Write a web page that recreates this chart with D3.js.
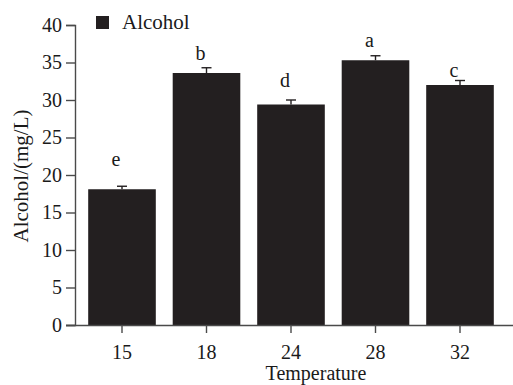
<!DOCTYPE html>
<html>
<head>
<meta charset="utf-8">
<script src="https://cdn.jsdelivr.net/npm/d3@7"></script>
<style>
  body { margin: 0; background: #fff; }
  svg { display: block; }
  svg text { font-family: "Liberation Serif", "Times New Roman", serif; }
</style>
</head>
<body>
<svg id="chart" width="513" height="385"></svg>
<script>
// data
const temps = ['15', '18', '24', '28', '32'];
const alcohol = [18.1, 33.6, 29.4, 35.3, 32.0];
const errs = [0.4, 0.7, 0.6, 0.6, 0.6];
const letters = ['e', 'b', 'd', 'a', 'c'];
const letterAt = [21.2, 35.3, 31.7, 37.1, 33.1]; // baseline height of each letter, in mg/L
const yTicks = [0, 5, 10, 15, 20, 25, 30, 35, 40];

const width = 513, height = 385;
const barColor = '#231f20', axisColor = '#4a4a4a', textColor = '#1a1a1a';
const serif = '"Liberation Serif", "Times New Roman", serif';
const fs = 20;

const svg = d3.select('#chart');

const x = d3.scaleBand()
    .domain(temps)
    .range([79.75, 502.25])
    .paddingInner(0.2)
    .paddingOuter(0.1);
const y = d3.scaleLinear()
    .domain([0, 40])
    .range([325, 25]);
const cx = i => x(temps[i]) + x.bandwidth() / 2;

// bars
svg.selectAll('rect.bar')
    .data(alcohol)
    .enter()
    .append('rect')
    .attr('class', 'bar')
    .attr('x', (d, i) => x(temps[i]))
    .attr('y', d => y(d))
    .attr('width', x.bandwidth())
    .attr('height', d => y(0) - y(d))
    .attr('fill', barColor);

// error bars (upper half only)
const eb = svg.selectAll('g.err')
    .data(alcohol)
    .enter()
    .append('g')
    .attr('class', 'err')
    .attr('stroke', barColor)
    .attr('stroke-width', 1.4);
eb.append('line')
    .attr('x1', (d, i) => cx(i))
    .attr('x2', (d, i) => cx(i))
    .attr('y1', d => y(d))
    .attr('y2', (d, i) => y(d + errs[i]));
eb.append('line')
    .attr('x1', (d, i) => cx(i) - 5)
    .attr('x2', (d, i) => cx(i) + 5)
    .attr('y1', (d, i) => y(d + errs[i]))
    .attr('y2', (d, i) => y(d + errs[i]));

// significance letters
svg.selectAll('text.sig')
    .data(letters)
    .enter()
    .append('text')
    .attr('class', 'sig')
    .attr('x', (d, i) => cx(i) - 6)
    .attr('y', (d, i) => y(letterAt[i]))
    .attr('text-anchor', 'middle')
    .attr('font-size', fs)
    .attr('fill', textColor)
    .text(d => d);

// y axis
const yAxis = svg.append('g')
    .attr('transform', 'translate(75,0)')
    .call(d3.axisLeft(y).tickValues(yTicks).tickSize(9).tickPadding(4));
yAxis.attr('font-family', serif).attr('font-size', fs);
yAxis.selectAll('text').attr('fill', textColor);

// x axis
const xAxis = svg.append('g')
    .attr('transform', 'translate(0,325)')
    .call(d3.axisBottom(x).tickSize(8).tickPadding(12).tickSizeOuter(0));
xAxis.attr('font-family', serif).attr('font-size', fs);
xAxis.selectAll('text').attr('fill', textColor);
xAxis.select('.domain').attr('d', 'M66,0.5H513');

svg.selectAll('.domain, .tick line').attr('stroke', axisColor).attr('stroke-width', 1.4);

// axis titles
svg.append('text')
    .attr('transform', 'translate(28,176) rotate(-90)')
    .attr('text-anchor', 'middle')
    .attr('font-size', 21)
    .attr('fill', textColor)
    .text('Alcohol/(mg/L)');
svg.append('text')
    .attr('x', 316)
    .attr('y', 380)
    .attr('text-anchor', 'middle')
    .attr('font-size', fs)
    .attr('fill', textColor)
    .text('Temperature');

// legend
svg.append('rect')
    .attr('x', 96).attr('y', 16)
    .attr('width', 13).attr('height', 13)
    .attr('fill', barColor);
svg.append('text')
    .attr('x', 122).attr('y', 29)
    .attr('font-size', 21)
    .attr('fill', textColor)
    .text('Alcohol');
</script>
</body>
</html>
